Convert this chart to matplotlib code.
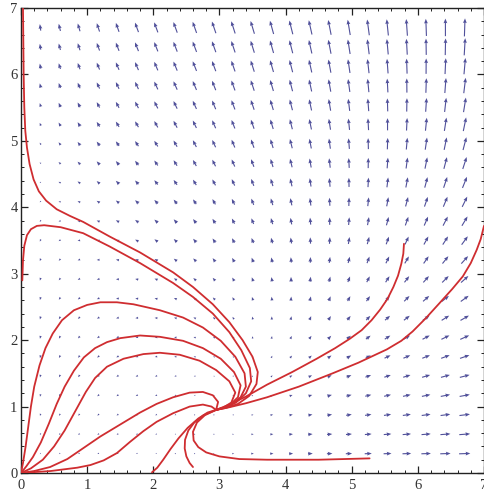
import numpy as np
import matplotlib
matplotlib.use('Agg')
import matplotlib.pyplot as plt
from matplotlib.ticker import MultipleLocator

# ---------------------------------------------------------------
# vector field: rates read off the arrow directions in the picture
x_eq, y_eq = 3.0, 1.0
rate_a, rate_b, rate_c, rate_d = 1.0, 0.6, 1.0, 0.8
n_grid = 23          # arrows per row / column
plot_max = 7.0
length_power = 0.68  # arrow length grows slower than magnitude

# trajectories (x, y)
curve_a = [(0.03, 7.0), (0.035, 6.5), (0.04, 6.0), (0.05, 5.5), (0.065, 5.15), (0.09, 4.9),
           (0.13, 4.65), (0.19, 4.42), (0.27, 4.24), (0.38, 4.10), (0.54, 3.97), (0.74, 3.87),
           (0.94, 3.78), (1.34, 3.56), (1.80, 3.32), (2.30, 3.02), (2.60, 2.80), (2.90, 2.54),
           (3.15, 2.27), (3.35, 2.00), (3.50, 1.75), (3.58, 1.52), (3.56, 1.34), (3.45, 1.16),
           (3.28, 1.04), (3.10, 0.98), (2.95, 0.95)]
curve_b = [(0.02, 2.9), (0.03, 3.2), (0.05, 3.42), (0.09, 3.58), (0.15, 3.67), (0.24, 3.72),
           (0.35, 3.73), (0.60, 3.70), (0.94, 3.61), (1.34, 3.41), (1.80, 3.16), (2.30, 2.86),
           (2.60, 2.65), (2.90, 2.40), (3.15, 2.12), (3.33, 1.85), (3.46, 1.58), (3.48, 1.38),
           (3.40, 1.20), (3.25, 1.06), (3.10, 0.99), (2.95, 0.95)]
curve_c1 = [(0.0, 0.0), (0.03, 0.15), (0.07, 0.4), (0.11, 0.7), (0.15, 1.0), (0.20, 1.3),
            (0.28, 1.62), (0.37, 1.88), (0.48, 2.10), (0.62, 2.30), (0.80, 2.45), (1.00, 2.53),
            (1.20, 2.57), (1.45, 2.57), (1.70, 2.54), (2.10, 2.45), (2.45, 2.34), (2.75, 2.19),
            (3.02, 1.99), (3.24, 1.75), (3.38, 1.50), (3.40, 1.30), (3.32, 1.14), (3.16, 1.01),
            (2.95, 0.95)]
curve_c2 = [(0.0, 0.0), (0.08, 0.1), (0.18, 0.24), (0.30, 0.46), (0.42, 0.74), (0.54, 1.04),
            (0.66, 1.30), (0.80, 1.54), (0.95, 1.74), (1.12, 1.88), (1.30, 1.97), (1.50, 2.03),
            (1.80, 2.07), (2.10, 2.05), (2.45, 1.99), (2.75, 1.88), (3.02, 1.72), (3.22, 1.52),
            (3.32, 1.32), (3.28, 1.14), (3.14, 1.01), (2.95, 0.95)]
curve_c3 = [(0.0, 0.0), (0.15, 0.07), (0.33, 0.20), (0.50, 0.40), (0.66, 0.64), (0.82, 0.93),
            (0.98, 1.22), (1.12, 1.43), (1.30, 1.60), (1.55, 1.72), (1.85, 1.79), (2.10, 1.81),
            (2.40, 1.78), (2.70, 1.69), (2.95, 1.55), (3.15, 1.38), (3.24, 1.21), (3.18, 1.06),
            (3.05, 0.98), (2.95, 0.95)]
curve_c4 = [(0.0, 0.0), (0.20, 0.03), (0.44, 0.09), (0.70, 0.21), (0.95, 0.38), (1.20, 0.55),
            (1.50, 0.73), (1.80, 0.91), (2.05, 1.04), (2.30, 1.14), (2.55, 1.21), (2.75, 1.22),
            (2.90, 1.17), (2.98, 1.07), (2.95, 0.95)]
curve_c5 = [(0.0, 0.0), (0.45, 0.03), (0.85, 0.08), (1.05, 0.12), (1.25, 0.19), (1.45, 0.30),
            (1.65, 0.47), (1.85, 0.63), (2.05, 0.77), (2.30, 0.90), (2.55, 1.00), (2.75, 1.03),
            (2.88, 1.00), (2.95, 0.95)]
curve_c6 = [(1.98, 0.01), (2.06, 0.08), (2.15, 0.20), (2.26, 0.36), (2.38, 0.52), (2.52, 0.68),
            (2.68, 0.82), (2.82, 0.91), (2.95, 0.95)]
curve_c7 = [(2.60, 0.09), (2.55, 0.15), (2.50, 0.25), (2.475, 0.37), (2.48, 0.50), (2.53, 0.64),
            (2.62, 0.76), (2.76, 0.87), (2.95, 0.95)]
curve_c8 = [(5.27, 0.22), (4.50, 0.20), (3.72, 0.20), (3.30, 0.21), (3.00, 0.25), (2.80, 0.31),
            (2.68, 0.39), (2.61, 0.49), (2.60, 0.62), (2.66, 0.76), (2.78, 0.87), (2.95, 0.95)]
curve_d1 = [(2.95, 0.95), (3.15, 1.03), (3.40, 1.15), (3.72, 1.33), (4.10, 1.52), (4.47, 1.72),
            (4.75, 1.88), (4.97, 2.02), (5.15, 2.15), (5.30, 2.30), (5.43, 2.46), (5.54, 2.62),
            (5.63, 2.80), (5.70, 2.97), (5.75, 3.15), (5.78, 3.30), (5.79, 3.45)]
curve_d2 = [(2.95, 0.95), (3.15, 0.99), (3.40, 1.05), (3.72, 1.14), (4.20, 1.30), (4.71, 1.50),
            (5.10, 1.66), (5.53, 1.86), (5.75, 1.99), (5.92, 2.13), (6.12, 2.33), (6.33, 2.56),
            (6.52, 2.77), (6.68, 2.96), (6.80, 3.16), (6.89, 3.36), (6.95, 3.52), (7.00, 3.72)]

curves = [curve_a, curve_b, curve_c1, curve_c2, curve_c3, curve_c4, curve_c5,
          curve_c6, curve_c7, curve_c8, curve_d1, curve_d2]

tick_values = [0, 1, 2, 3, 4, 5, 6, 7]

arrow_color = '#50509a'
curve_color = '#cf2d30'

#-------------------------------------------------------------------
fig = plt.figure(figsize=(4.84, 4.97), dpi=100)
ax = fig.add_axes([21/484, 24/497, 463/484, 465/497])

# arrow grid and field
g = np.arange(1, n_grid + 1) * plot_max / (n_grid + 1)
X, Y = np.meshgrid(g, g)
U = X * (rate_a * (X - x_eq) - rate_b * (Y - y_eq))
V = Y * (rate_c * (X - x_eq) + rate_d * (Y - y_eq))
mag = np.hypot(U, V)
spacing = plot_max / (n_grid + 1)
L = 0.93 * spacing * (mag / mag.max())**length_power
U2 = U / mag * L
V2 = V / mag * L

ax.quiver(X, Y, U2, V2, angles='xy', scale_units='xy', scale=1, pivot='middle',
          color=arrow_color, width=0.0024, headwidth=3.4, headlength=4.2,
          headaxislength=3.8, zorder=2)

for c in curves:
    c = np.array(c)
    ax.plot(c[:, 0], c[:, 1], color=curve_color, lw=1.3, solid_joinstyle='round',
            solid_capstyle='round', zorder=3)

ax.set_xlim(0, plot_max)
ax.set_ylim(0, plot_max)

ax.set_xticks(tick_values)
ax.set_yticks(tick_values)
ax.xaxis.set_minor_locator(MultipleLocator(0.2))
ax.yaxis.set_minor_locator(MultipleLocator(0.2))
ax.tick_params(which='both', direction='in', top=True, right=True, color='#222222')
ax.tick_params(which='major', length=5, width=0.9)
ax.tick_params(which='minor', length=2.5, width=0.7)
ax.tick_params(axis='x', pad=4)
ax.tick_params(axis='y', pad=2.5)
for lab in ax.get_xticklabels() + ax.get_yticklabels():
    lab.set_family('Liberation Serif')
    lab.set_fontsize(10.5)
    lab.set_color('#333333')
for s in ax.spines.values():
    s.set_linewidth(1.0)
    s.set_color('#222222')

fig.savefig('out.png', dpi=100)
